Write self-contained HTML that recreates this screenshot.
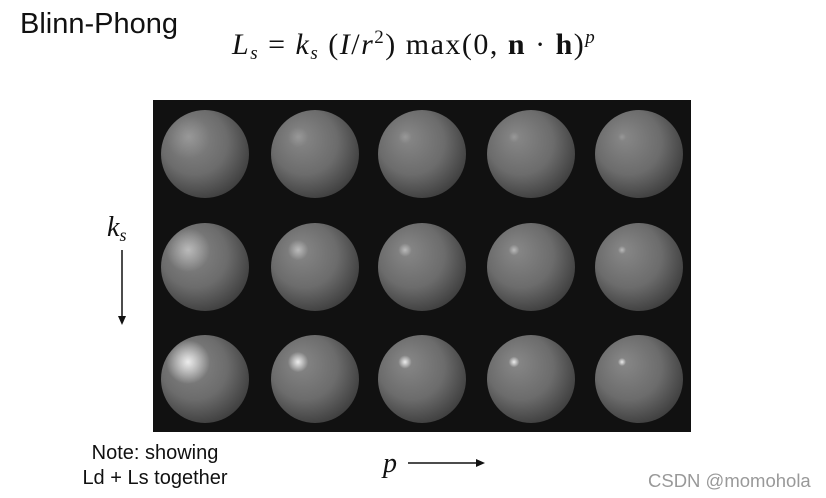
<!DOCTYPE html>
<html><head><meta charset="utf-8"><style>
html,body{margin:0;padding:0;background:#fff;width:826px;height:498px;overflow:hidden}
svg{display:block}
</style></head><body>
<svg id="fig" width="826" height="498" xmlns="http://www.w3.org/2000/svg">
<defs id="defs">
<radialGradient id="base" cx="0.42" cy="0.4" r="0.62" fx="0.32" fy="0.3">
<stop offset="0" stop-color="#888"/><stop offset="0.6" stop-color="#6c6c6c"/><stop offset="1" stop-color="#404040"/>
</radialGradient>
<radialGradient id="hl"><stop offset="0" stop-color="#fff" stop-opacity="1"/><stop offset="0.4" stop-color="#fff" stop-opacity="0.6"/><stop offset="1" stop-color="#fff" stop-opacity="0"/></radialGradient>
</defs>
<text x="20" y="33" font-family="Liberation Sans, sans-serif" font-size="29" fill="#111">Blinn-Phong</text>
<text x="232" y="54" font-family="Liberation Serif, serif" font-size="30" letter-spacing="1.5" fill="#111"><tspan font-style="italic">L</tspan><tspan font-style="italic" font-size="19" dy="5">s</tspan><tspan dy="-5"> = </tspan><tspan font-style="italic">k</tspan><tspan font-style="italic" font-size="19" dy="5">s</tspan><tspan dy="-5"> (</tspan><tspan font-style="italic">I</tspan><tspan>/</tspan><tspan font-style="italic">r</tspan><tspan font-size="19" dy="-11">2</tspan><tspan dy="11">) max(0, </tspan><tspan font-weight="bold">n</tspan><tspan> · </tspan><tspan font-weight="bold">h</tspan><tspan>)</tspan><tspan font-style="italic" font-size="19" dy="-11">p</tspan></text>
<rect x="153" y="100" width="538" height="332" fill="#111"/>
<g id="spheres"></g>
<text x="107" y="236" font-family="Liberation Serif, serif" font-style="italic" font-size="28" fill="#111">k<tspan font-size="18" dy="5">s</tspan></text>
<line x1="122" y1="250" x2="122" y2="318" stroke="#111" stroke-width="1.5"/>
<polygon points="118,316 126,316 122,325" fill="#111"/>
<text x="155" y="459" text-anchor="middle" font-family="Liberation Sans, sans-serif" font-size="20" fill="#111">Note: showing</text>
<text x="155" y="484" text-anchor="middle" font-family="Liberation Sans, sans-serif" font-size="20" fill="#111">Ld + Ls together</text>
<text x="383" y="472" font-family="Liberation Serif, serif" font-style="italic" font-size="28" fill="#111">p</text>
<line x1="408" y1="463" x2="478" y2="463" stroke="#111" stroke-width="1.5"/>
<polygon points="476,459 476,467 485,463" fill="#111"/>
<text x="648" y="487" font-family="Liberation Sans, sans-serif" font-size="18.5" fill="#999">CSDN @momohola</text>
</svg>
<script>
const pValues = [1, 5, 20, 50, 200];
const ksValues = [0.1, 0.3, 0.6];
const colX = [205, 315, 422, 531, 639];
const rowY = [154, 267, 379];
const g = document.getElementById('spheres');
const defs = document.getElementById('defs');
const NS = 'http://www.w3.org/2000/svg';
ksValues.forEach((ks, r) => {
  pValues.forEach((p, c) => {
    const cx = colX[c], cy = rowY[r], R = 44;
    const cp = document.createElementNS(NS, 'clipPath');
    cp.setAttribute('id', 'cp' + r + '_' + c);
    const cc = document.createElementNS(NS, 'circle');
    cc.setAttribute('cx', cx); cc.setAttribute('cy', cy); cc.setAttribute('r', R);
    cp.appendChild(cc); defs.appendChild(cp);
    const s = document.createElementNS(NS, 'circle');
    s.setAttribute('cx', cx); s.setAttribute('cy', cy); s.setAttribute('r', R);
    s.setAttribute('fill', 'url(#base)');
    
    
    g.appendChild(s);
    const h = document.createElementNS(NS, 'circle');
    h.setAttribute('cx', cx - 17); h.setAttribute('cy', cy - 17);
    h.setAttribute('r', 22 / Math.pow(1 + 0.5 * Math.log(p), 1.3));
    h.setAttribute('fill', 'url(#hl)');
    h.setAttribute('opacity', Math.min(0.9, ks * 1.4));
    h.setAttribute('clip-path', 'url(#cp' + r + '_' + c + ')');
    
    
    g.appendChild(h);
  });
});
</script>
</body></html>
